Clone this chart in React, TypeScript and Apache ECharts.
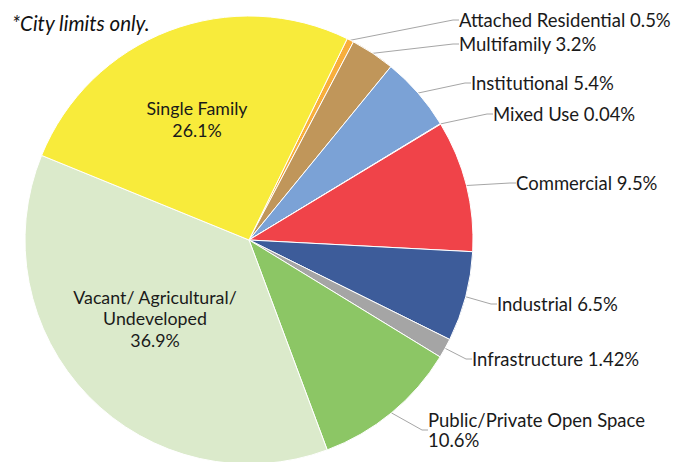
import React, { useEffect, useRef } from "react";
import * as echarts from "echarts";

const categories = [
  "Attached Residential",
  "Multifamily",
  "Institutional",
  "Mixed Use",
  "Commercial",
  "Industrial",
  "Infrastructure",
  "Public/Private Open Space",
  "Vacant/ Agricultural/ Undeveloped",
  "Single Family",
];
const values = [0.5, 3.2, 5.4, 0.04, 9.5, 6.5, 1.42, 10.6, 36.9, 26.1];
const labelNames = [
  "Attached Residential ",
  "Multifamily ",
  "Institutional ",
  "Mixed Use ",
  "Commercial ",
  "Industrial ",
  "Infrastructure ",
  "Public/Private Open Space\n",
  "Vacant/ Agricultural/\nUndeveloped\n",
  "Single Family\n",
];
const insideLabel = [false, false, false, false, false, false, false, false, true, true];
const colors = [
  "#F8AE3C",
  "#C0965A",
  "#7BA2D6",
  "#E8463E",
  "#F04349",
  "#3D5C9A",
  "#A5A5A5",
  "#8CC665",
  "#DBEACB",
  "#F8EB3B",
];
// label anchor positions (left-middle for outside labels, center for inside labels)
const labelPos = [
  [459, 20],
  [459, 44],
  [471, 83],
  [493, 114],
  [516, 183],
  [497, 304],
  [472, 359],
  [428, 430],
  [155, 318],
  [197, 119],
];

const FONT = "Lato, 'Noto Sans', sans-serif";

export default function App() {
  const ref = useRef<HTMLDivElement>(null);
  useEffect(() => {
    if (!ref.current) return;
    const chart = echarts.init(ref.current, undefined, { renderer: "svg" });
    const data = categories.map((name, i) => ({
      name,
      value: values[i],
      itemStyle: { color: colors[i] },
      label: {
        position: insideLabel[i] ? "inside" : "outside",
        align: insideLabel[i] ? "center" : "left",
        fontSize: insideLabel[i] ? 17.8 : 18.5,
        lineHeight: insideLabel[i] ? 21.5 : 20.5,
      },
      labelLine: { show: !insideLabel[i], length: 8, length2: 6 },
    }));
    chart.setOption({
      animation: false,
      title: {
        text: "*City limits only.",
        left: 7,
        top: 8,
        textStyle: {
          fontFamily: FONT,
          fontStyle: "italic",
          fontWeight: "normal",
          fontSize: 20.5,
          color: "#111",
        },
      },
      series: [
        {
          type: "pie",
          center: [249, 240],
          radius: 224,
          startAngle: 64,
          clockwise: true,
          avoidLabelOverlap: false,
          itemStyle: { borderColor: "#fff", borderWidth: 1 },
          label: {
            fontFamily: FONT,
            fontSize: 18.5,
            color: "#1a1a1a",
            lineHeight: 21,
            formatter: (p: any) => labelNames[p.dataIndex] + values[p.dataIndex] + "%",
          },
          labelLine: { lineStyle: { color: "#A6A6A6", width: 1 } },
          labelLayout: (p: any) => {
            const i = p.dataIndex;
            const pos = labelPos[i];
            return {
              x: pos[0],
              y: pos[1],
              align: insideLabel[i] ? "center" : "left",
              verticalAlign: "middle",
            };
          },
          emphasis: { disabled: true },
          data,
        },
      ],
    });
    return () => chart.dispose();
  }, []);
  return (
    <div
      ref={ref}
      style={{ position: "fixed", left: 0, top: 0, width: 677, height: 462, background: "#fff" }}
    />
  );
}
